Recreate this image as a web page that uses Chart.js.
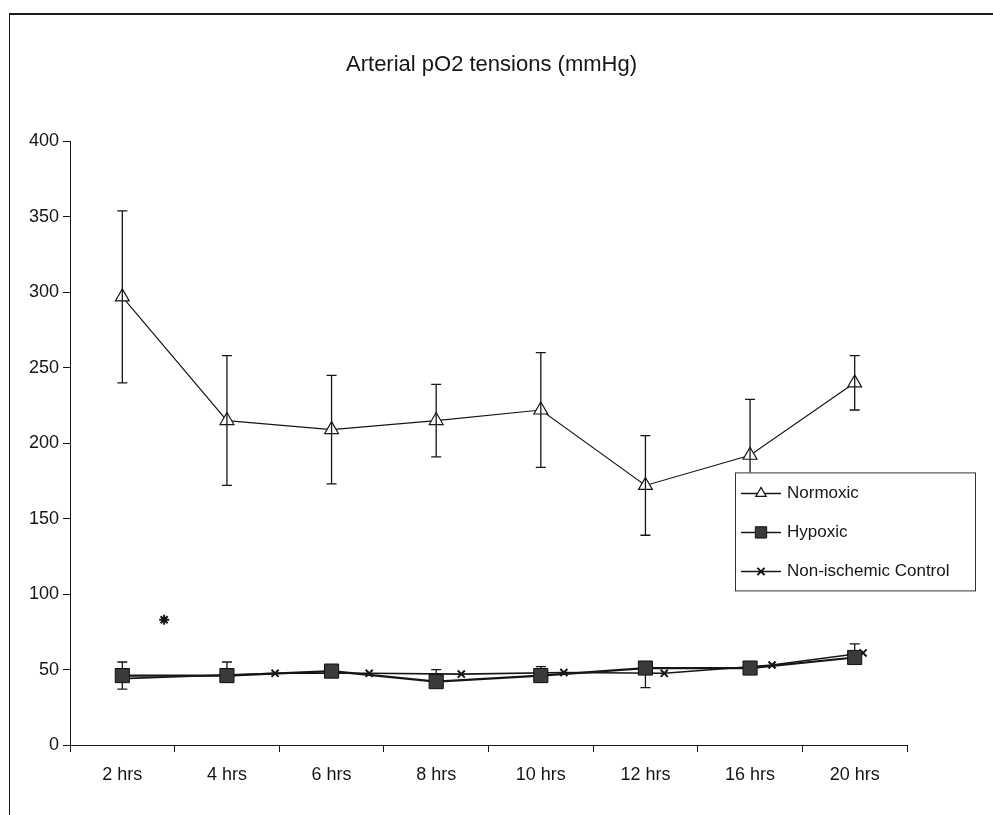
<!DOCTYPE html>
<html>
<head>
<meta charset="utf-8">
<script src="https://cdn.jsdelivr.net/npm/chart.js@4/dist/chart.umd.min.js"></script>
<style>
  html, body { margin: 0; padding: 0; background: #fff; }
  #wrap { position: relative; width: 993px; height: 815px; overflow: hidden; }
  #frame { position: absolute; left: 9px; top: 13px; right: -2px; bottom: -2px;
           border-top: 2px solid #1a1a1a; border-left: 1.5px solid #1a1a1a; pointer-events: none; }
  canvas { position: absolute; left: 0; top: 0; }
</style>
</head>
<body>
<div id="wrap">
  <canvas id="chart" width="993" height="815"></canvas>
  <div id="frame"></div>
</div>
<script>
// Sampling times
const timepoints = ['2 hrs', '4 hrs', '6 hrs', '8 hrs', '10 hrs', '12 hrs', '16 hrs', '20 hrs'];

// Normoxic group: mean and SD (mmHg)
const normoxic   = [297, 215, 209, 215, 222, 172, 192, 240];
const normoxicSD = [57, 43, 36, 24, 38, 33, 37, 18];

// Hypoxic group: mean with upper / lower error (mmHg)
const hypoxic        = [46, 46, 49, 42, 46, 51, 51, 58];
const hypoxicErrUp   = [9, 9, 4, 8, 6, 4, 4, 9];
const hypoxicErrDown = [9, 4, 4, 4, 4, 13, 4, 4];

// Non-ischemic control: plotted position along the time axis (category units) and value
const controlPos = [0, 1.46, 2.36, 3.24, 4.22, 5.18, 6.21, 7.08];
const control    = [44, 47.5, 47.5, 47, 48, 47.5, 53, 61];

// Significance mark
const sigPos = [0.4];
const sigVal = [83];

// Y axis range and step
const yMin = 0, yMax = 400, yStep = 50;

const INK = '#161616';
const FONT = "'Liberation Sans', Arial, sans-serif";

// Error bars drawn from the series data through the chart scales
function drawBars(chart, values, up, down, halfCap) {
  const { ctx, scales } = chart;
  const x = scales.x, y = scales.y;
  ctx.save();
  ctx.strokeStyle = INK;
  ctx.lineWidth = 1.3;
  values.forEach((v, i) => {
    const px = x.getPixelForValue(i);
    const pTop = y.getPixelForValue(v + up[i]);
    const pBot = y.getPixelForValue(v - down[i]);
    ctx.beginPath();
    ctx.moveTo(px, pTop); ctx.lineTo(px, pBot);
    ctx.moveTo(px - halfCap, pTop); ctx.lineTo(px + halfCap, pTop);
    ctx.moveTo(px - halfCap, pBot); ctx.lineTo(px + halfCap, pBot);
    ctx.stroke();
  });
  ctx.restore();
}

const errorBars = {
  id: 'errorBars',
  beforeDatasetsDraw(chart) {
    drawBars(chart, hypoxic, hypoxicErrUp, hypoxicErrDown, 5);
  },
  afterDatasetsDraw(chart) {
    drawBars(chart, normoxic, normoxicSD, normoxicSD, 5);
  }
};

// Boxed series key with line + marker samples
const seriesKey = {
  id: 'seriesKey',
  afterDraw(chart) {
    const { ctx, chartArea } = chart;
    const left = chartArea.right - 172, top = chartArea.top + 331;
    const w = 240, h = 118;
    ctx.save();
    ctx.fillStyle = '#fff';
    ctx.fillRect(left, top, w, h);
    ctx.strokeStyle = '#333';
    ctx.lineWidth = 1;
    ctx.strokeRect(left + 0.5, top + 0.5, w, h);
    const items = chart.data.datasets.filter(d => d.inKey);
    items.forEach((d, i) => {
      const cy = top + 21 + i * 39;
      ctx.strokeStyle = INK;
      ctx.lineWidth = 1.5;
      ctx.beginPath();
      ctx.moveTo(left + 6, cy); ctx.lineTo(left + 46, cy);
      ctx.stroke();
      ctx.fillStyle = d.pointBackgroundColor;
      ctx.strokeStyle = d.pointBorderColor;
      ctx.lineWidth = d.pointBorderWidth;
      Chart.helpers.drawPoint(ctx, {
        pointStyle: d.pointStyle, radius: d.keyRadius, rotation: 0, borderWidth: d.pointBorderWidth
      }, left + 26, cy);
      ctx.fillStyle = INK;
      ctx.font = '17px ' + FONT;
      ctx.textBaseline = 'middle';
      ctx.textAlign = 'left';
      ctx.fillText(d.label, left + 52, cy);
    });
    ctx.restore();
  }
};

new Chart(document.getElementById('chart'), {
  type: 'line',
  data: {
    labels: timepoints,
    datasets: [
      {
        label: 'Normoxic',
        inKey: true,
        data: normoxic,
        xAxisID: 'x',
        borderColor: INK,
        borderWidth: 1.2,
        pointStyle: 'triangle',
        pointRadius: 8,
        keyRadius: 6,
        pointBackgroundColor: '#ffffff',
        pointBorderColor: INK,
        pointBorderWidth: 1.2,
        tension: 0
      },
      {
        label: 'Hypoxic',
        inKey: true,
        data: hypoxic,
        xAxisID: 'x',
        borderColor: INK,
        borderWidth: 2.2,
        pointStyle: 'rect',
        pointRadius: 10,
        keyRadius: 8,
        pointBackgroundColor: '#3a3a3a',
        pointBorderColor: '#111',
        pointBorderWidth: 1,
        tension: 0
      },
      {
        label: 'Non-ischemic Control',
        inKey: true,
        data: controlPos.map((p, i) => ({ x: p, y: control[i] })),
        xAxisID: 'xc',
        borderColor: INK,
        borderWidth: 1.6,
        pointStyle: 'crossRot',
        pointRadius: 5,
        keyRadius: 5,
        pointBackgroundColor: INK,
        pointBorderColor: INK,
        pointBorderWidth: 2,
        tension: 0
      },
      {
        label: 'significance',
        inKey: false,
        data: sigPos.map((p, i) => ({ x: p, y: sigVal[i] })),
        xAxisID: 'xc',
        showLine: false,
        pointStyle: 'star',
        pointRadius: 5,
        pointBackgroundColor: INK,
        pointBorderColor: INK,
        pointBorderWidth: 2
      }
    ]
  },
  options: {
    responsive: false,
    animation: false,
    devicePixelRatio: 1,
    layout: { padding: { left: 0, right: 10, top: 0, bottom: 0 } },
    plugins: {
      legend: { display: false },
      tooltip: { enabled: false },
      title: {
        display: true,
        text: 'Arterial pO2 tensions (mmHg)',
        color: INK,
        font: { family: FONT, size: 22, weight: 'normal' },
        padding: { top: 52, bottom: 63 }
      }
    },
    scales: {
      x: {
        type: 'category',
        offset: true,
        grid: { offset: true, drawOnChartArea: false, drawTicks: true, tickLength: 7, color: INK, lineWidth: 1 },
        border: { display: true, color: INK, width: 1 },
        ticks: { color: INK, font: { family: FONT, size: 18 }, padding: 12, maxRotation: 0, autoSkip: false },
        afterFit(scale) { scale.height = 70; }
      },
      xc: {
        type: 'linear',
        axis: 'x',
        position: 'bottom',
        display: false,
        min: -0.5,
        max: timepoints.length - 0.5
      },
      y: {
        min: yMin,
        max: yMax,
        grid: { drawOnChartArea: false, drawTicks: true, tickLength: 7, color: INK, lineWidth: 1 },
        border: { display: true, color: INK, width: 1 },
        ticks: { stepSize: yStep, color: INK, font: { family: FONT, size: 18 }, padding: 4 },
        afterFit(scale) { scale.width = 70; }
      },
      // empty right-hand gutter that holds room for the key box
      gutter: {
        type: 'linear',
        axis: 'y',
        position: 'right',
        display: true,
        grid: { display: false },
        border: { display: false },
        ticks: { display: false },
        afterFit(scale) { scale.width = 76; }
      }
    }
  },
  plugins: [errorBars, seriesKey]
});
</script>
</body>
</html>
